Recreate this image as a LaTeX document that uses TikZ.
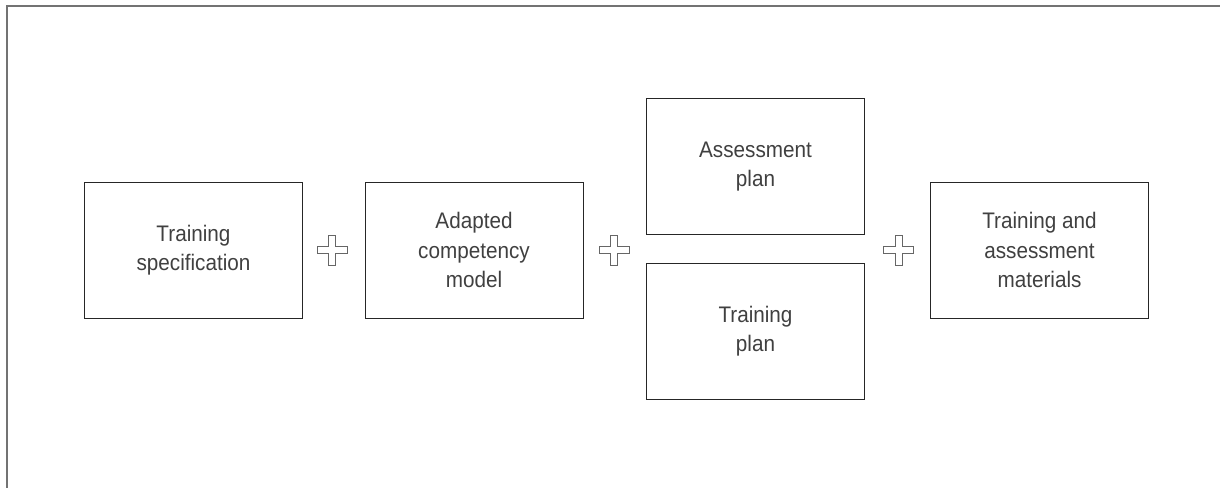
\documentclass[tikz,border=0pt]{standalone}
\usepackage{fontspec}
\setmainfont[FakeStretch=0.92]{Liberation Sans}
\begin{document}
\begin{tikzpicture}[x=1pt,y=-1pt,
  stagebox/.style={draw=black!85, line width=1pt, minimum width=218pt, minimum height=136pt,
    align=center, text=black!75, font=\fontsize{22.5}{29.5}\selectfont, inner sep=0pt},
  plusmark/.style={draw=black!60, line width=0.9pt, fill=white},
  frameline/.style={draw=black!55, line width=2pt}]
  \useasboundingbox (0,0) rectangle (1220,488);
  % open frame: top and left edges only
  \coordinate (ftl) at (6.5,5.5);
  \coordinate (ftr) at (1220,5.5);
  \coordinate (fbl) at (6.5,488);
  \draw[frameline] (ftr) -- (ftl) -- (fbl);

  \node[stagebox] (spec)  at (193.5,250) {Training\\specification};
  \node[stagebox] (model) at (474,250)   {Adapted\\competency\\model};
  \node[stagebox] (aplan) at (755.5,166.5) {Assessment\\plan};
  \node[stagebox] (tplan) at (755.5,331) {Training\\plan};
  \node[stagebox] (mats)  at (1039.5,250) {Training and\\assessment\\materials};

  % outlined plus signs between the stages
  \tikzset{pics/crossmark/.style={code={
    \draw[plusmark] (-15,-3.5) -- (-3.5,-3.5) -- (-3.5,-15) -- (3.5,-15) -- (3.5,-3.5)
      -- (15,-3.5) -- (15,3.5) -- (3.5,3.5) -- (3.5,15) -- (-3.5,15) -- (-3.5,3.5)
      -- (-15,3.5) -- cycle;}}}
  \path (332,250) coordinate (p1) pic {crossmark};
  \path (614,250) coordinate (p2) pic {crossmark};
  \path (898.5,250) coordinate (p3) pic {crossmark};
\end{tikzpicture}
\end{document}
